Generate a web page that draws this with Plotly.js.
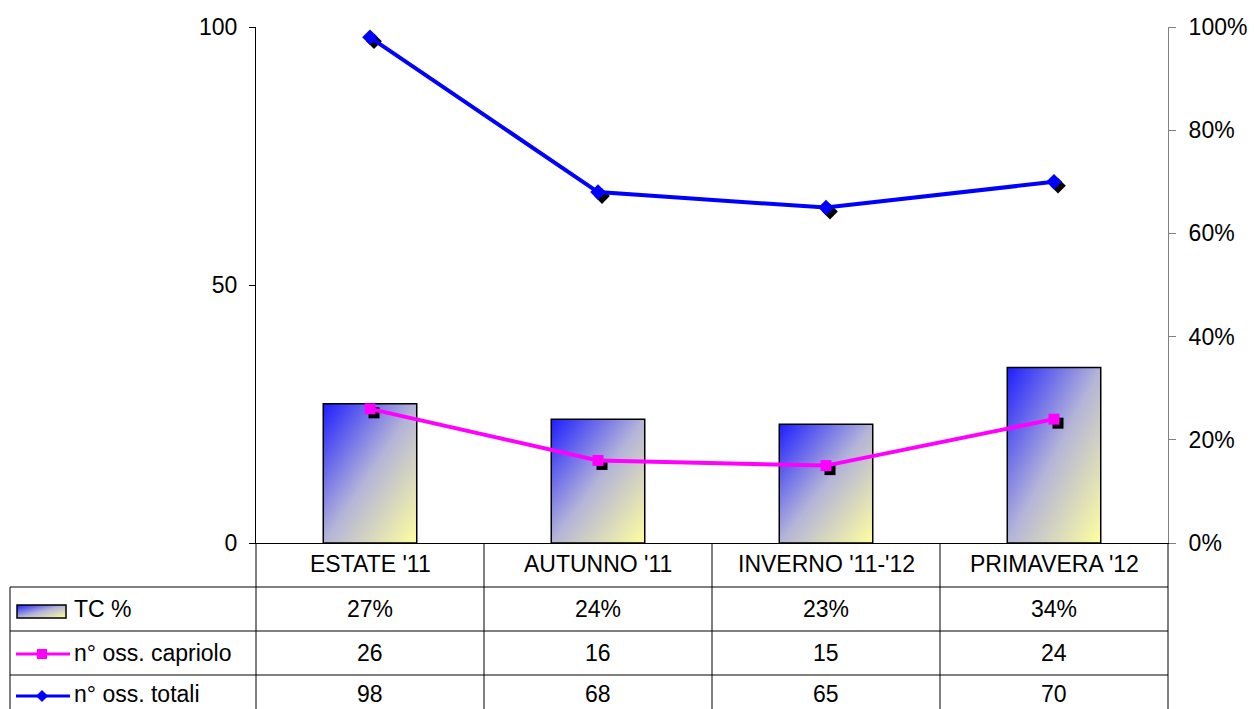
<!DOCTYPE html>
<html><head><meta charset="utf-8">
<script src="https://cdn.plot.ly/plotly-3.0.1.min.js"></script>
<style>html,body{margin:0;padding:0;background:#fff}</style>
</head><body><div id="chart" style="width:1254px;height:709px"></div>
<script>
// ---- data ----
const categories = ["ESTATE '11", "AUTUNNO '11", "INVERNO '11-'12", "PRIMAVERA '12"];
const tcPercent = [0.27, 0.24, 0.23, 0.34];
const ossCapriolo = [26, 16, 15, 24];
const ossTotali = [98, 68, 65, 70];
const seriesNames = ["TC %", "n° oss. capriolo", "n° oss. totali"];
const leftTicks = [0, 50, 100];
const rightTicks = [0, 0.2, 0.4, 0.6, 0.8, 1];

// ---- geometry (pixels) ----
const W = 1254, H = 709, L = 256, R = 1168, T = 27, B = 543;
const fx = p => (p - L) / (R - L);
const fy = p => (B - p) / (B - T);
const FONT = {family: 'Liberation Sans, Arial, sans-serif', size: 23, color: '#000'};
const MAG = '#ff00ff', BLUE = '#0000ff';

const data = [
  {type: 'bar', x: categories, y: tcPercent, yaxis: 'y', name: seriesNames[0],
   width: 0.41, marker: {color: '#9b9bd9', line: {color: '#000', width: 1.5}}},
  {type: 'scatter', mode: 'lines+markers', x: categories, y: ossCapriolo, yaxis: 'y2', name: seriesNames[1],
   line: {color: MAG, width: 4}, marker: {symbol: 'square', size: 11, color: MAG}},
  {type: 'scatter', mode: 'lines+markers', x: categories, y: ossTotali, yaxis: 'y2', name: seriesNames[2],
   line: {color: BLUE, width: 4}, marker: {symbol: 'diamond', size: 12, color: BLUE}}
];

// ---- table (annotations & shapes built from the arrays) ----
const annotations = [];
const rowY = [609, 653, 694];
const rowVals = [tcPercent.map(v => Math.round(v * 100) + '%'), ossCapriolo.map(String), ossTotali.map(String)];
categories.forEach((c, i) => {
  annotations.push({xref: 'x', yref: 'paper', x: i, y: fy(564), text: c, showarrow: false,
    xanchor: 'center', yanchor: 'middle', font: FONT});
  rowVals.forEach((vals, r) => {
    annotations.push({xref: 'x', yref: 'paper', x: i, y: fy(rowY[r]), text: vals[i], showarrow: false,
      xanchor: 'center', yanchor: 'middle', font: FONT});
  });
});
seriesNames.forEach((n, r) => {
  annotations.push({xref: 'paper', yref: 'paper', x: fx(72), y: fy(rowY[r]), text: n, showarrow: false,
    xanchor: 'left', yanchor: 'middle', font: FONT});
});

const shapes = [];
const ln = (x0, y0, x1, y1, color, w) => shapes.push({type: 'line', xref: 'paper', yref: 'paper',
  x0: fx(x0), y0: fy(y0), x1: fx(x1), y1: fy(y1), line: {color: color || '#000', width: w || 1}});
// column lines
for (let k = 0; k <= categories.length; k++) {
  const px = L + (R - L) * k / categories.length;
  ln(px, B, px, H + 5);
}
ln(10, 587, 10, H + 5);
[587, 631, 675].forEach(y => ln(10, y, R, y));
// legend symbols
shapes.push({type: 'rect', xref: 'paper', yref: 'paper', x0: fx(17), x1: fx(66), y0: fy(618), y1: fy(605),
  fillcolor: 'rgb(1,2,3)', line: {color: '#000', width: 1.5}});
ln(16, 654, 70, 654, MAG, 3);
shapes.push({type: 'rect', xref: 'paper', yref: 'paper', x0: fx(37), x1: fx(47), y0: fy(659), y1: fy(649),
  fillcolor: MAG, line: {width: 0}});
ln(16, 696, 70, 696, BLUE, 3);
shapes.push({type: 'path', xref: 'paper', yref: 'paper', fillcolor: BLUE, line: {width: 0},
  path: `M${fx(42)},${fy(690)} L${fx(48)},${fy(696)} L${fx(42)},${fy(702)} L${fx(36)},${fy(696)} Z`});

const layout = {
  width: W, height: H, margin: {l: L, r: W - R, t: T, b: H - B, pad: 0},
  paper_bgcolor: '#fff', plot_bgcolor: '#fff', showlegend: false,
  font: FONT,
  xaxis: {type: 'category', range: [-0.5, categories.length - 0.5], showline: true, linecolor: '#000', linewidth: 1,
    showticklabels: false, ticks: '', showgrid: false, zeroline: false, fixedrange: true},
  yaxis: {side: 'right', range: [0, 1], tickvals: rightTicks, tickformat: '.0%', showline: true,
    linecolor: '#808080', linewidth: 1, ticks: 'outside', ticklen: 7, tickcolor: '#808080',
    ticklabelstandoff: 8, showgrid: false, zeroline: false, tickfont: FONT},
  yaxis2: {overlaying: 'y', side: 'left', range: [0, 100], tickvals: leftTicks, showline: true,
    linecolor: '#000', linewidth: 1, ticks: 'outside', ticklen: 6, tickcolor: '#000',
    ticklabelstandoff: 7, showgrid: false, zeroline: false, tickfont: FONT},
  annotations: annotations, shapes: shapes
};

Plotly.newPlot('chart', data, layout, {staticPlot: true, displayModeBar: false}).then(gd => {
  const NS = 'http://www.w3.org/2000/svg';
  const svg = gd.querySelector('.main-svg');
  let defs = svg.querySelector('defs');
  if (!defs) { defs = document.createElementNS(NS, 'defs'); svg.insertBefore(defs, svg.firstChild); }
  const g = document.createElementNS(NS, 'linearGradient');
  g.setAttribute('id', 'barGrad');
  g.setAttribute('x1', '0'); g.setAttribute('y1', '0'); g.setAttribute('x2', '1'); g.setAttribute('y2', '1');
  [[0, '#1e1eff'], [0.5, '#b4b4d8'], [1, '#ffffa0']].forEach(([o, c]) => {
    const s = document.createElementNS(NS, 'stop');
    s.setAttribute('offset', o); s.setAttribute('stop-color', c);
    g.appendChild(s);
  });
  defs.appendChild(g);
  gd.querySelectorAll('.barlayer .point path').forEach(p => { p.style.fill = 'url(#barGrad)'; });
  gd.querySelectorAll('.shapelayer path').forEach(p => {
    if (p.style.fill === 'rgb(1, 2, 3)') p.style.fill = 'url(#barGrad)';
  });
  gd.querySelectorAll('.scatterlayer .trace').forEach(tr => {
    const grp = document.createElementNS(NS, 'g');
    tr.querySelectorAll('.points path').forEach(p => {
      const c = p.cloneNode(true);
      c.setAttribute('transform', (p.getAttribute('transform') || '') + ' translate(4,4)');
      c.style.fill = '#000'; c.style.stroke = 'none';
      grp.appendChild(c);
    });
    tr.insertBefore(grp, tr.firstChild);
  });
});
</script>
</body></html>
